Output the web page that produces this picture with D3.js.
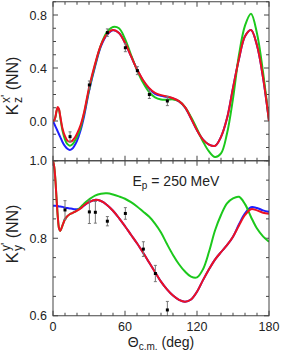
<!DOCTYPE html>
<html>
<head>
<meta charset="utf-8">
<script src="https://cdn.jsdelivr.net/npm/d3@7"></script>
<style>
  body { margin: 0; background: #fff; }
  svg { display: block; font-family: "Liberation Sans", Arial, sans-serif; }
</style>
</head>
<body>
<div id="chart"></div>
<script>
// scattering angles (deg) on which the curves are read
var theta = [0, 1, 2, 3, 4, 5, 6, 8, 10, 12, 14, 16, 18, 20, 23, 26, 30, 35, 40, 45, 50, 55, 60, 65, 70, 75,
             80, 85, 90, 95, 100, 105, 110, 115, 120, 125, 130, 135, 140, 145, 150, 155, 160, 165, 170, 175, 180];

// upper panel: Kz^x'(NN)
var kzBlue  = [0, -0.02, -0.04, -0.06, -0.08, -0.1, -0.12, -0.16, -0.19, -0.21, -0.219, -0.21, -0.185, -0.15, -0.07, 0.04,
               0.225, 0.41, 0.565, 0.65, 0.685, 0.665, 0.59, 0.49, 0.39, 0.305, 0.245, 0.205, 0.19, 0.182, 0.17, 0.148,
               0.103, 0.02, -0.07, -0.14, -0.178, -0.188, -0.12, 0.02, 0.25, 0.47, 0.64, 0.687, 0.57, 0.33, 0];
var kzGreen = [0, 0.005, 0.03, 0.075, 0.1, 0.085, 0.03, -0.075, -0.14, -0.175, -0.186, -0.178, -0.153, -0.12, -0.05, 0.06,
               0.235, 0.42, 0.575, 0.67, 0.71, 0.7, 0.62, 0.5, 0.385, 0.29, 0.22, 0.178, 0.162, 0.16, 0.163, 0.15,
               0.105, 0.03, -0.06, -0.155, -0.23, -0.272, -0.245, -0.095, 0.17, 0.5, 0.72, 0.81, 0.66, 0.37, 0];
var kzRed   = [0, 0.005, 0.03, 0.08, 0.105, 0.09, 0.04, -0.06, -0.115, -0.148, -0.157, -0.15, -0.128, -0.095, -0.03, 0.07,
               0.25, 0.43, 0.575, 0.655, 0.687, 0.665, 0.59, 0.49, 0.39, 0.31, 0.25, 0.212, 0.195, 0.185, 0.172, 0.15,
               0.105, 0.02, -0.07, -0.14, -0.178, -0.188, -0.12, 0.02, 0.25, 0.47, 0.64, 0.687, 0.57, 0.33, 0];

// lower panel: Ky^y'(NN)
var kyBlue  = [0.884, 0.884, 0.884, 0.883, 0.883, 0.882, 0.882, 0.881, 0.879, 0.878, 0.877, 0.876, 0.875, 0.875, 0.878, 0.885,
               0.893, 0.899, 0.896, 0.886, 0.871, 0.852, 0.831, 0.809, 0.787, 0.763, 0.738, 0.713, 0.688, 0.668, 0.652, 0.641,
               0.636, 0.642, 0.662, 0.692, 0.72, 0.745, 0.764, 0.782, 0.804, 0.836, 0.864, 0.88, 0.878, 0.872, 0.868];
var kyGreen = [1.0, 0.985, 0.95, 0.9, 0.855, 0.826, 0.819, 0.834, 0.849, 0.857, 0.862, 0.865, 0.868, 0.872, 0.88, 0.89,
               0.9, 0.91, 0.915, 0.916, 0.913, 0.908, 0.902, 0.893, 0.882, 0.869, 0.856, 0.838, 0.815, 0.785, 0.757, 0.733,
               0.714, 0.701, 0.699, 0.72, 0.765, 0.82, 0.86, 0.89, 0.903, 0.907, 0.888, 0.855, 0.825, 0.805, 0.791];
var kyRed   = [1.0, 0.985, 0.95, 0.9, 0.855, 0.826, 0.819, 0.834, 0.849, 0.857, 0.862, 0.865, 0.868, 0.871, 0.877, 0.885,
               0.893, 0.899, 0.896, 0.886, 0.871, 0.852, 0.831, 0.809, 0.787, 0.763, 0.738, 0.713, 0.688, 0.668, 0.652, 0.641,
               0.636, 0.642, 0.662, 0.692, 0.72, 0.745, 0.764, 0.782, 0.804, 0.833, 0.86, 0.875, 0.872, 0.866, 0.863];

// measured points
var kzDataTheta = [14.2, 30.3, 45.3, 60.3, 70.3, 80.3, 95.3];
var kzDataValue = [-0.118, 0.272, 0.667, 0.553, 0.38, 0.2, 0.151];
var kzDataError = [0.036, 0.03, 0.028, 0.03, 0.03, 0.03, 0.035];

var kyDataTheta = [10, 30.3, 35.3, 45.3, 60.3, 75.3, 85.3, 95.3];
var kyDataValue = [0.873, 0.868, 0.867, 0.844, 0.864, 0.772, 0.709, 0.615];
var kyDataError = [0.024, 0.03, 0.028, 0.012, 0.015, 0.019, 0.021, 0.022];

var xTicks = [0, 60, 120, 180];
var kzTicks = [0.0, 0.4, 0.8];
var kyTicks = [0.6, 0.8, 1.0];

var colors = {blue: "#1f1fff", green: "#1cc81c", red: "#ee1122"};

// size setup
var width = 284, height = 355;
var left = 53, right = 269;

var svg = d3.select("#chart").append("svg")
    .attr("width", width)
    .attr("height", height);

var xScale = d3.scaleLinear().domain([0, 180]).range([left, right]);

function drawPanel(cfg){
    var yScale = d3.scaleLinear().domain(cfg.domain).range([cfg.bottom, cfg.top]);
    var g = svg.append("g");

    var clipId = "clip" + cfg.name;
    svg.append("clipPath").attr("id", clipId)
        .append("rect")
        .attr("x", left).attr("y", cfg.top)
        .attr("width", right - left).attr("height", cfg.bottom - cfg.top);

    // ticks on all four sides, pointing inward
    var xMinor = d3.range(0, 181, 10);
    xMinor.forEach(function(t){
        var len = (t % 60 === 0) ? 5 : 3;
        g.append("line").attr("x1", xScale(t)).attr("x2", xScale(t))
            .attr("y1", cfg.bottom).attr("y2", cfg.bottom - len)
            .attr("stroke", "#444").attr("stroke-width", 1);
        g.append("line").attr("x1", xScale(t)).attr("x2", xScale(t))
            .attr("y1", cfg.top).attr("y2", cfg.top + len)
            .attr("stroke", "#444").attr("stroke-width", 1);
    });
    var yMinor = d3.range(cfg.domain[0], cfg.domain[1] + 1e-9, cfg.minorStep);
    yMinor.forEach(function(v){
        var major = cfg.ticks.some(function(t){ return Math.abs(t - v) < 1e-6; });
        var len = major ? 5 : 3;
        var y = yScale(v);
        g.append("line").attr("x1", left).attr("x2", left + len)
            .attr("y1", y).attr("y2", y).attr("stroke", "#444");
        g.append("line").attr("x1", right).attr("x2", right - len)
            .attr("y1", y).attr("y2", y).attr("stroke", "#444");
    });

    // tick labels
    g.selectAll(".ylab").data(cfg.ticks).enter().append("text")
        .attr("x", left - 6)
        .attr("y", function(d){ return yScale(d); })
        .attr("dy", "0.36em")
        .attr("text-anchor", "end")
        .attr("font-size", 12.5)
        .attr("fill", "#222")
        .text(function(d){ return d3.format(".1f")(d); });

    // curves
    var line = d3.line()
        .x(function(d){ return xScale(d[0]); })
        .y(function(d){ return yScale(d[1]); })
        .curve(d3.curveCatmullRom.alpha(0.5));

    var cg = g.append("g").attr("clip-path", "url(#" + clipId + ")");
    cfg.series.forEach(function(s){
        cg.append("path")
            .datum(theta.map(function(t, i){ return [t, s.values[i]]; }))
            .attr("d", line)
            .attr("fill", "none")
            .attr("stroke", s.color)
            .attr("stroke-width", 2);
    });

    // data points with error bars
    var pts = cfg.dataTheta.map(function(t, i){
        return {t: t, v: cfg.dataValue[i], e: cfg.dataError[i]};
    });
    var pg = cg.selectAll(".pt").data(pts).enter().append("g");
    pg.append("line")
        .attr("x1", function(d){ return xScale(d.t); })
        .attr("x2", function(d){ return xScale(d.t); })
        .attr("y1", function(d){ return yScale(d.v - d.e); })
        .attr("y2", function(d){ return yScale(d.v + d.e); })
        .attr("stroke", "#777").attr("stroke-width", 1);
    [-1, 1].forEach(function(sgn){
        pg.append("line")
            .attr("x1", function(d){ return xScale(d.t) - 1.5; })
            .attr("x2", function(d){ return xScale(d.t) + 1.5; })
            .attr("y1", function(d){ return yScale(d.v + sgn * d.e); })
            .attr("y2", function(d){ return yScale(d.v + sgn * d.e); })
            .attr("stroke", "#777").attr("stroke-width", 1);
    });
    pg.append("rect")
        .attr("x", function(d){ return xScale(d.t) - 1.5; })
        .attr("y", function(d){ return yScale(d.v) - 1.5; })
        .attr("width", 3).attr("height", 3)
        .attr("fill", "#000");

    // frame
    g.append("rect")
        .attr("x", left).attr("y", cfg.top)
        .attr("width", right - left).attr("height", cfg.bottom - cfg.top)
        .attr("fill", "none").attr("stroke", "#444").attr("stroke-width", 1);

    return yScale;
}

drawPanel({
    name: "kz", domain: [-0.3, 0.9], top: 1.75, bottom: 160.75, minorStep: 0.1, ticks: kzTicks,
    series: [{values: kzBlue, color: colors.blue}, {values: kzGreen, color: colors.green}, {values: kzRed, color: colors.red}],
    dataTheta: kzDataTheta, dataValue: kzDataValue, dataError: kzDataError
});

drawPanel({
    name: "ky", domain: [0.6, 1.0], top: 160.75, bottom: 315.75, minorStep: 0.05, ticks: kyTicks,
    series: [{values: kyBlue, color: colors.blue}, {values: kyGreen, color: colors.green}, {values: kyRed, color: colors.red}],
    dataTheta: kyDataTheta, dataValue: kyDataValue, dataError: kyDataError
});

// x tick labels
svg.selectAll(".xlab").data(xTicks).enter().append("text")
    .attr("x", function(d){ return xScale(d); })
    .attr("y", 331)
    .attr("text-anchor", "middle")
    .attr("font-size", 12.5)
    .attr("fill", "#222")
    .text(function(d){ return d; });

// x axis title
var xt = svg.append("text")
    .attr("x", (left + right) / 2).attr("y", 347)
    .attr("text-anchor", "middle")
    .attr("font-size", 14).attr("fill", "#222");
xt.append("tspan").text("\u0398");
xt.append("tspan").attr("font-size", 10).attr("dy", 3).text("c.m.");
xt.append("tspan").attr("dy", -3).text(" (deg)");

// y axis titles (rotated)
function yTitle(cy, sub, sup){
    var t = svg.append("text")
        .attr("transform", "translate(18," + cy + ") rotate(-90)")
        .attr("text-anchor", "middle")
        .attr("font-size", 16).attr("fill", "#222");
    t.append("tspan").attr("font-size", 17).text("K");
    t.append("tspan").attr("font-size", 12).attr("dx", 1).attr("dy", 4).text(sub);
    t.append("tspan").attr("font-size", 12).attr("dx", -6).attr("dy", -12).text(sup + "\u2009");
    t.append("tspan").attr("dx", 2).attr("dy", 8).text("(NN)");
}
yTitle(86, "z", "x'");
yTitle(234, "y", "y'");

// beam energy label
var el = svg.append("text")
    .attr("x", 132.5).attr("y", 185.5)
    .attr("font-size", 14).attr("fill", "#222");
el.append("tspan").text("E");
el.append("tspan").attr("font-size", 10).attr("dy", 3).text("p");
el.append("tspan").attr("dy", -3).text(" = 250 MeV");
</script>
</body>
</html>
